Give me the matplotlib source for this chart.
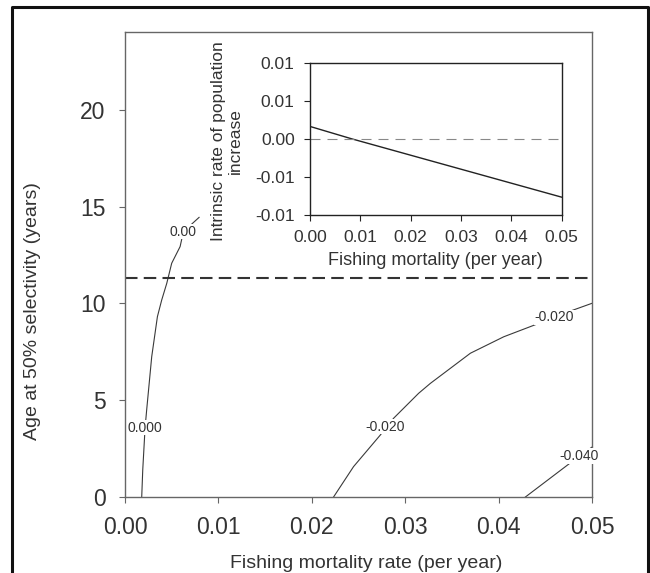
import matplotlib
matplotlib.use('Agg')
import matplotlib.pyplot as plt
from matplotlib.lines import Line2D

plt.rcParams['font.family'] = ['Liberation Sans', 'DejaVu Sans']

# contour lines (fishing mortality, age at 50% selectivity)
c000_x = [0.00179, 0.0019, 0.00215, 0.00232, 0.00286, 0.00347, 0.00393, 0.00447, 0.0050, 0.0059, 0.00625, 0.00793]
c000_y = [0.0, 1.4, 3.58, 4.5, 7.25, 9.32, 10.18, 11.04, 12.08, 12.94, 13.71, 14.45]
c020_x = [0.02233, 0.02447, 0.02733, 0.02876, 0.03144, 0.03269, 0.03698, 0.04055, 0.04413, 0.04798, 0.0500]
c020_y = [0.0, 1.57, 3.20, 4.07, 5.36, 5.87, 7.43, 8.28, 8.94, 9.66, 10.01]
c040_x = [0.04287, 0.04762, 0.0500]
c040_y = [0.0, 1.74, 2.58]

# contour labels: (text, x, y)
clabels = [('0.000', 0.00215, 3.58), ('0.00', 0.00625, 13.71),
           ('-0.020', 0.0279, 3.63), ('-0.020', 0.04595, 9.29),
           ('-0.040', 0.04863, 2.12)]

age_limit = 11.32

# inset: intrinsic rate vs fishing mortality
inset_f = [0.0, 0.0083, 0.05]
inset_r = [0.00163, 0.0, -0.00766]

fig = plt.figure(figsize=(6.5, 5.73), dpi=100)

ax = fig.add_axes([125/650, 1-497/573, 467/650, 465/573])
line_col = '#3a3a3a'
ax.plot(c000_x, c000_y, color=line_col, lw=0.8)
ax.plot(c020_x, c020_y, color=line_col, lw=0.8)
ax.plot(c040_x, c040_y, color=line_col, lw=0.8)
for txt, x, y in clabels:
    ax.text(x, y, txt, fontsize=10, color='#333333', ha='center', va='center', zorder=5,
            bbox=dict(facecolor='white', edgecolor='none', pad=0.5))
ax.axhline(age_limit, color='#333333', lw=1.5, dashes=(6, 3))

ax.set_xlim(0, 0.05)
ax.set_ylim(0, 24.03)
ax.set_xticks([0.0, 0.01, 0.02, 0.03, 0.04, 0.05])
ax.set_xticklabels(['0.00', '0.01', '0.02', '0.03', '0.04', '0.05'])
ax.set_yticks([0, 5, 10, 15, 20])
for s in ax.spines.values():
    s.set_color('#666666')
    s.set_linewidth(1.0)
ax.tick_params(axis='both', labelsize=16.5, length=4, color='#666666', labelcolor='#333333')
ax.tick_params(axis='x', pad=10)
ax.tick_params(axis='y', pad=10)
ax.set_xlabel('Fishing mortality rate (per year)', fontsize=14, color='#333333')
ax.set_ylabel('Age at 50% selectivity (years)', fontsize=14, color='#333333')
ax.xaxis.set_label_coords(0.516, -0.125)
ax.yaxis.set_label_coords(-0.18, 0.40)

# inset
ins = fig.add_axes([310/650, 1-215/573, 251.7/650, 152.3/573])
ins.plot(inset_f, inset_r, color='#222222', lw=1.0)
ins.axhline(0, color='#888888', lw=0.8, dashes=(9, 6.3))
ins.set_xlim(0, 0.05)
ins.set_ylim(-0.01, 0.01)
ins.set_xticks([0.0, 0.01, 0.02, 0.03, 0.04, 0.05])
ins.set_xticklabels(['0.00', '0.01', '0.02', '0.03', '0.04', '0.05'])
ins.set_yticks([0.01, 0.005, 0.0, -0.005, -0.01])
ins.set_yticklabels(['0.01', '0.01', '0.00', '-0.01', '-0.01'])
for s in ins.spines.values():
    s.set_color('#222222')
    s.set_linewidth(1.0)
ins.tick_params(axis='both', labelsize=12.5, length=4, color='#222222', labelcolor='#333333', pad=7)
ins.set_xlabel('Fishing mortality (per year)', fontsize=13, color='#333333')
ins.set_ylabel('Intrinsic rate of population\nincrease', fontsize=12.5, color='#333333',
               multialignment='center')
ins.xaxis.set_label_coords(0.5, -0.24)
ins.yaxis.set_label_coords(-0.266, 0.486)

# figure frame (open at the bottom)
fx0, fx1, fy1 = 12/650, 648/650, 1-6.5/573
fig.add_artist(Line2D([fx0, fx0, fx1, fx1], [-0.1, fy1, fy1, -0.1], color='#111111', lw=2.2))

fig.savefig('out.png', dpi=100)
